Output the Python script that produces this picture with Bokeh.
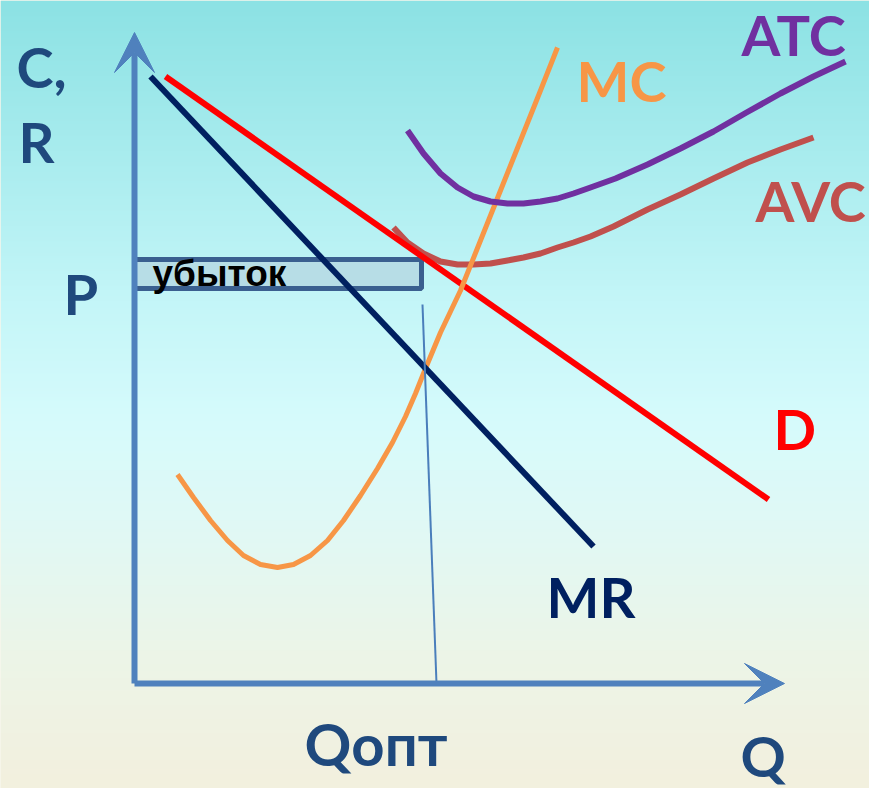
import numpy as np
from bokeh.plotting import figure
from bokeh.models import Arrow, VeeHead, Range1d
from bokeh.core.properties import value
from bokeh.embed import file_html
from bokeh.resources import INLINE

# ---- data (chart units: Q along x, C/R along y) ----
mc_q = [4.3, 5.9, 7.6, 9.3, 10.9, 12.6, 14.3, 15.9, 17.6, 19.3, 20.9, 22.6, 24.3, 25.8,
        27.1, 28.1, 29.1, 30.6, 32.6, 34.6, 36.6, 38.6, 40.6, 42.3]
mc_c = [20.9, 18.6, 16.3, 14.3, 12.8, 11.9, 11.6, 11.9, 12.8, 14.3, 16.3, 18.8, 21.5, 24.1,
        26.7, 29.0, 31.5, 35.1, 39.3, 44.3, 49.3, 54.3, 59.3, 63.6]

atc_q = [27.3, 28.9, 30.6, 32.3, 33.9, 35.6, 37.3, 38.9, 40.6, 42.3, 43.9, 45.6, 48.1,
         51.3, 54.6, 57.9, 61.2, 64.6, 67.9, 71.1]
atc_c = [55.3, 53.0, 51.0, 49.6, 48.7, 48.2, 48.0, 48.0, 48.2, 48.5, 49.0, 49.6, 50.5,
         51.9, 53.5, 55.2, 57.1, 59.0, 60.7, 62.2]

avc_q = [25.9, 27.3, 28.9, 30.6, 32.3, 33.9, 35.6, 37.3, 38.9, 40.6, 42.3, 43.9, 45.6,
         47.9, 51.3, 54.6, 57.9, 61.3, 64.6, 67.9]
avc_c = [45.6, 44.1, 43.0, 42.2, 41.9, 41.9, 42.0, 42.3, 42.6, 43.0, 43.6, 44.1, 44.7,
         45.7, 47.4, 48.9, 50.5, 52.1, 53.4, 54.6]

d_q = [3.1, 63.4]
d_c = [60.7, 18.4]

mr_q = [1.6, 45.9]
mr_c = [60.7, 13.7]

q_opt = [28.8, 30.2]
q_opt_c = [37.9, 0.0]

loss_q = [0.0, 28.7]
loss_c = [39.5, 42.4]

axis_q_max = 65.0
axis_c_max = 65.1

labels = ["C,", "R", "P", "MC", "ATC", "AVC", "D", "MR", "Q", "Qопт"]
label_q = [-11.8, -11.6, -7.1, 44.2, 60.7, 62.1, 63.9, 41.2, 60.6, 17.0]
label_c = [61.7, 54.2, 39.0, 60.3, 64.9, 48.3, 25.5, 8.7, -7.2, -6.0]
label_colors = ["#1f497d", "#1f497d", "#1f497d", "#f79646", "#7030a0", "#c0504d",
                "#ff0000", "#002060", "#1f497d", "#1f497d"]

loss_label = "убыток"

X0, X1 = -13.4, 73.5
Y0, Y1 = -10.5, 68.3

p = figure(width=869, height=788, x_range=Range1d(X0, X1), y_range=Range1d(Y0, Y1),
           output_backend="svg", toolbar_location=None, min_border=0)
p.axis.visible = False
p.grid.visible = False
p.outline_line_color = None
p.border_fill_color = "#f2efdc"
p.background_fill_color = "#f2efdc"

# background gradient (screen y from top in px -> colour)
stops_y = [0, 150, 300, 420, 520, 650, 788]
stops_rgb = [(140, 226, 228), (168, 236, 238), (196, 246, 248), (214, 251, 252),
             (224, 249, 246), (236, 245, 232), (243, 240, 222)]
H = 788
rows = np.arange(H)
ys = 788 - rows - 0.5
img = np.empty((H, 2), dtype=np.uint32)
view = img.view(dtype=np.uint8).reshape((H, 2, 4))
for k in range(3):
    ch = np.interp(ys, stops_y, [c[k] for c in stops_rgb])
    view[:, :, k] = ch.astype(np.uint8)[:, None]
view[:, :, 3] = 255
p.image_rgba(image=[img], x=X0, y=Y0, dw=X1 - X0, dh=Y1 - Y0)

# loss rectangle
p.quad(left=[loss_q[0]], right=[loss_q[1]], bottom=[loss_c[0]], top=[loss_c[1]],
       fill_color="#b7dde6", line_color="#3a5f8f", line_width=5)
p.text(x=[1.8], y=[41.0], text=[loss_label], text_font=value("Liberation Sans"),
       text_font_style="bold", text_font_size="37px", text_color="#000000",
       text_baseline="alphabetic", text_align="left")

p.line(avc_q, avc_c, line_color="#c0504d", line_width=6, line_join="round")
p.line(d_q, d_c, line_color="#ff0000", line_width=6)
p.line(mc_q, mc_c, line_color="#f79646", line_width=5, line_join="round")
p.line(atc_q, atc_c, line_color="#7030a0", line_width=6, line_join="round")
p.line(mr_q, mr_c, line_color="#002060", line_width=6)
p.line(q_opt, q_opt_c, line_color="#4a7ebb", line_width=2)

# axes with arrows
axis_col = "#4f81bd"
p.add_layout(Arrow(x_start=0, y_start=0, x_end=0, y_end=axis_c_max,
                   line_color=axis_col, line_width=6,
                   end=VeeHead(size=40, fill_color=axis_col, line_color=axis_col, line_width=1)))
p.add_layout(Arrow(x_start=0, y_start=0, x_end=axis_q_max, y_end=0,
                   line_color=axis_col, line_width=6,
                   end=VeeHead(size=40, fill_color=axis_col, line_color=axis_col, line_width=1)))

p.text(x=label_q[:-1], y=label_c[:-1], text=labels[:-1], text_color=label_colors[:-1],
       text_font=value("Lato"), text_font_style="bold", text_font_size="56px",
       text_baseline="alphabetic", text_align="left")
p.text(x=label_q[-1:], y=label_c[-1:], text=labels[-1:], text_color=label_colors[-1:],
       text_font=value("Lato"), text_font_style="bold", text_font_size="58px",
       text_baseline="alphabetic", text_align="left")

open("out.html", "w").write(file_html(p, INLINE))
